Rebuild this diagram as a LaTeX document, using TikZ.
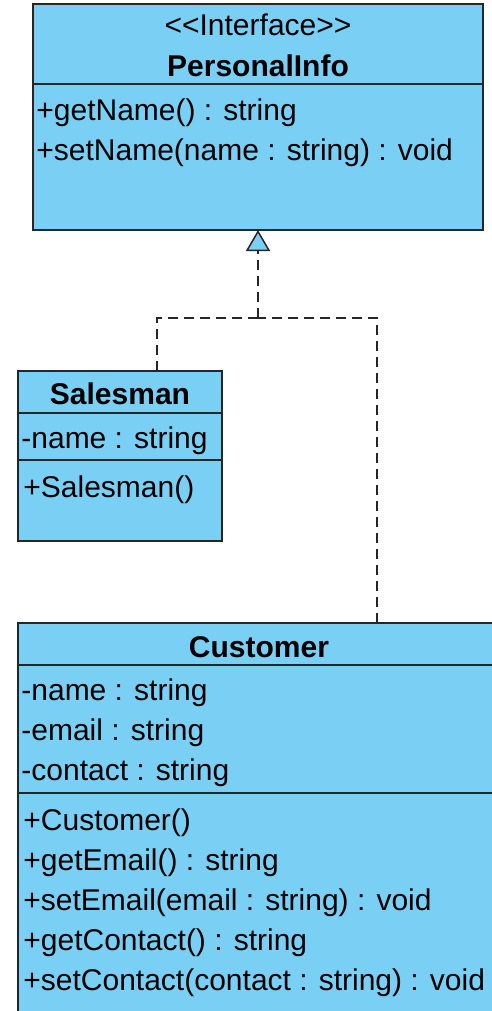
\documentclass[tikz,border=0pt]{standalone}
\usepackage{fontspec}
\setmainfont{Liberation Sans}
\usetikzlibrary{arrows.meta,positioning}
\definecolor{umlblue}{RGB}{122,207,245}

\begin{document}
\begin{tikzpicture}[x=1pt,y=1pt,font=\fontsize{15}{20}\selectfont]

  \tikzstyle{part}=[rectangle,draw=black!85,line width=0.8pt,fill=umlblue,
                    inner sep=0pt,outer sep=0pt]
  \tikzstyle{title}=[anchor=base,inner sep=0pt,font=\fontsize{15}{20}\selectfont\bfseries]
  \tikzstyle{member}=[anchor=base west,inner sep=0pt]
  \tikzstyle{realize}=[draw=black!85,line width=0.75pt,dash pattern=on 5pt off 3pt]

  \useasboundingbox (0,0) rectangle (246,-505.5);

  % Interface
  \node [part,anchor=north west,minimum width=225pt,minimum height=40pt]
    (pi) at (16.5,-2) {};
  \node [part,below=0pt of pi,minimum width=225pt,minimum height=73pt] (piops) {};
  \node [title] (pistereo) at ([yshift=-16pt]pi.north)
    {\mdseries\textless\kern0pt\textless Interface\textgreater\kern0pt\textgreater};
  \node [title] (piname) at ([yshift=-36.5pt]pi.north) {PersonalInfo};
  \node [member] (piop1) at ([xshift=1.5pt,yshift=-18pt]piops.north west)
    {+getName() : string};
  \node [member] (piop2) at ([yshift=-20pt]piop1.base west)
    {+setName(name : string) : void};

  % Salesman
  \node [part,anchor=north west,minimum width=102pt,minimum height=21pt]
    (sal) at (9,-185.5) {};
  \node [part,below=0pt of sal,minimum width=102pt,minimum height=23.5pt] (salattr) {};
  \node [part,below=0pt of salattr,minimum width=102pt,minimum height=40.5pt] (salops) {};
  \node [title] (salname) at ([yshift=-16.5pt]sal.north) {Salesman};
  \node [member] (salattr1) at ([xshift=1.5pt,yshift=-17.5pt]salattr.north west)
    {-name : string};
  \node [member] (salop1) at ([xshift=2.5pt,yshift=-18.5pt]salops.north west)
    {+Salesman()};

  % Customer
  \node [part,anchor=north west,minimum width=241pt,minimum height=21pt]
    (cust) at (9,-311.5) {};
  \node [part,below=0pt of cust,minimum width=241pt,minimum height=64pt] (custattr) {};
  \node [part,below=0pt of custattr,minimum width=241pt,minimum height=118.5pt] (custops) {};
  \node [title] (custname) at ([yshift=-17pt]cust.north) {Customer};
  \node [member] (custattr1) at ([xshift=1.5pt,yshift=-17.5pt]custattr.north west)
    {-name : string};
  \node [member] (custattr2) at ([yshift=-20pt]custattr1.base west) {-email : string};
  \node [member] (custattr3) at ([yshift=-20pt]custattr2.base west) {-contact : string};
  \node [member] (custop1) at ([xshift=2.5pt,yshift=-18.5pt]custops.north west)
    {+Customer()};
  \node [member] (custop2) at ([yshift=-20pt]custop1.base west) {+getEmail() : string};
  \node [member] (custop3) at ([yshift=-20pt]custop2.base west)
    {+setEmail(email : string) : void};
  \node [member] (custop4) at ([yshift=-20pt]custop3.base west) {+getContact() : string};
  \node [member] (custop5) at ([yshift=-20pt]custop4.base west)
    {+setContact(contact : string) : void};

  % Realization
  \coordinate (join) at ([yshift=-44pt]piops.south);
  \draw [realize] ([xshift=18.5pt]sal.north) |- (join);
  \draw [realize] ([xshift=179.5pt]cust.north west) |- (join);
  \draw [realize,-{Triangle[width=12pt,length=10.5pt,fill=umlblue]}]
    (join) -- (piops.south);
\end{tikzpicture}
\end{document}
